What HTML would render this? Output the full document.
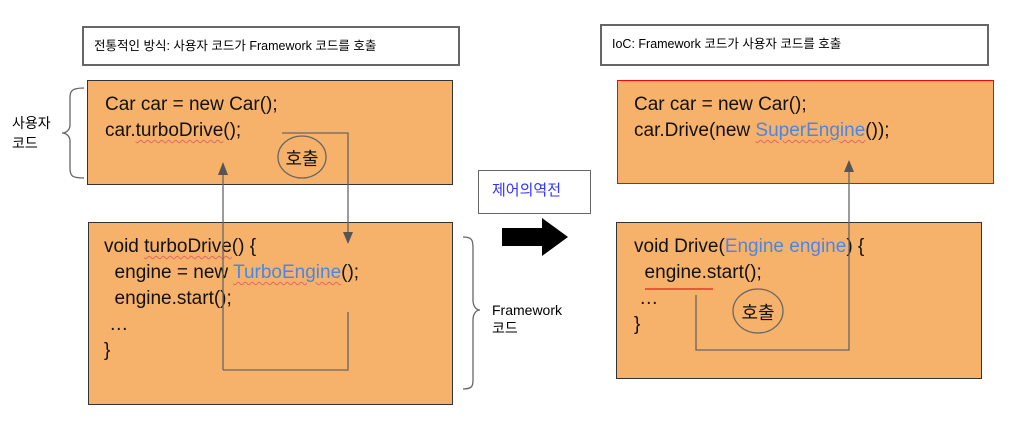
<!DOCTYPE html>
<html><head><meta charset="utf-8"><style>
body{margin:0;width:1032px;height:439px;background:#fff;position:relative;overflow:hidden;font-family:"Liberation Sans","Noto Sans CJK KR",sans-serif;}
.a{position:absolute;}
.t{position:absolute;border:2px solid #666;background:#fff;font-size:12.5px;box-sizing:border-box;padding-left:10px;line-height:36px;}
.o{position:absolute;background:#f6b26b;border:1.5px solid #333;box-sizing:border-box;}
.c{position:absolute;font-size:19px;line-height:26px;color:#111;white-space:pre;}
.b{color:#4a86e8}
.sq{text-decoration:underline wavy #e06666;text-decoration-thickness:1px;text-underline-offset:3px}
</style></head><body>
<div class="t" style="left:82px;top:26px;width:378px;height:40px;">전통적인 방식: 사용자 코드가 Framework 코드를 호출</div>
<div class="t" style="left:600px;top:24px;width:389px;height:42px;">IoC: Framework 코드가 사용자 코드를 호출</div>
<div class="o" style="left:87px;top:80px;width:366px;height:105px;"></div>
<div class="o" style="left:88px;top:222px;width:365px;height:183px;"></div>
<div class="o" style="left:617px;top:80px;width:377px;height:104px;border-color:#f00;"></div>
<div class="o" style="left:616px;top:222px;width:366px;height:157px;"></div>
<div class="t" style="left:478px;top:170px;width:113px;height:44px;color:#33f;font-size:15px;padding-left:13px;line-height:40px;border-width:1.5px;">제어의역전</div>
<div class="c" style="left:105px;top:92px;">Car car = new Car();
car.<span class="sq">turboDrive</span>();</div>
<div class="c" style="left:104px;top:234px;">void <span class="sq">turboDrive</span>() {
  engine = new <span class="b sq">TurboEngine</span>();
  engine.start();
 …
}</div>
<div class="c" style="left:634px;top:92px;">Car car = new Car();
car.Drive(new <span class="b sq">SuperEngine</span>());</div>
<div class="c" style="left:634px;top:234px;">void Drive(<span class="b">Engine engine</span>) {
  engine.start();
 …
}</div>
<div class="a" style="left:12px;top:113px;font-size:14px;line-height:20px;">사용자<br>코드</div>
<div class="a" style="left:492px;top:301px;font-size:14px;line-height:18px;">Framework<br>코드</div>
<svg class="a" style="left:0;top:0" width="1032" height="439">
<defs><marker id="m" markerWidth="8" markerHeight="8" refX="4" refY="7" orient="auto-start-reverse" markerUnits="userSpaceOnUse" viewBox="0 0 8 8"><path d="M0,0 L8,0 L4,8z" fill="#555" transform="rotate(0)"/></marker></defs>
<g fill="none" stroke="#666" stroke-width="1.3">
<path d="M84,88 C70,88 70,92 70,100 L70,125 C70,130 66,133 62,133 C66,133 70,136 70,141 L70,168 C70,176 72,178 84,178"/>
<path d="M463,237 C472,237 473,240 473,248 L473,300 C473,306 476,310 480,310 C476,310 473,314 473,320 L473,380 C473,386 472,389 463,389"/>
<path d="M223,370 L223,172 M223,370 L348,370 L348,312"/>
<path d="M282,133 L348,133 L348,236"/>
<path d="M696,295 L696,350 L849,350 L849,170"/>
<ellipse cx="302" cy="157" rx="24" ry="21"/>
<ellipse cx="758" cy="311" rx="25" ry="22"/>
</g>
<path d="M218,175 L223,162 L228,175z M343,232 L348,244 L353,232z M844,172 L849,160 L854,172z" fill="#555"/>
<path d="M645,289 L713,289" stroke="#e53" stroke-width="2"/>
<path d="M502,228 L542,228 L542,218 L568,237 L542,256 L542,246 L502,246z" fill="#000"/>
<text x="302" y="165" font-size="18" text-anchor="middle" font-family="Liberation Sans, Noto Sans CJK KR, sans-serif" fill="#111">호출</text>
<text x="758" y="319" font-size="18" text-anchor="middle" font-family="Liberation Sans, Noto Sans CJK KR, sans-serif" fill="#111">호출</text>
</svg>
</body></html>
